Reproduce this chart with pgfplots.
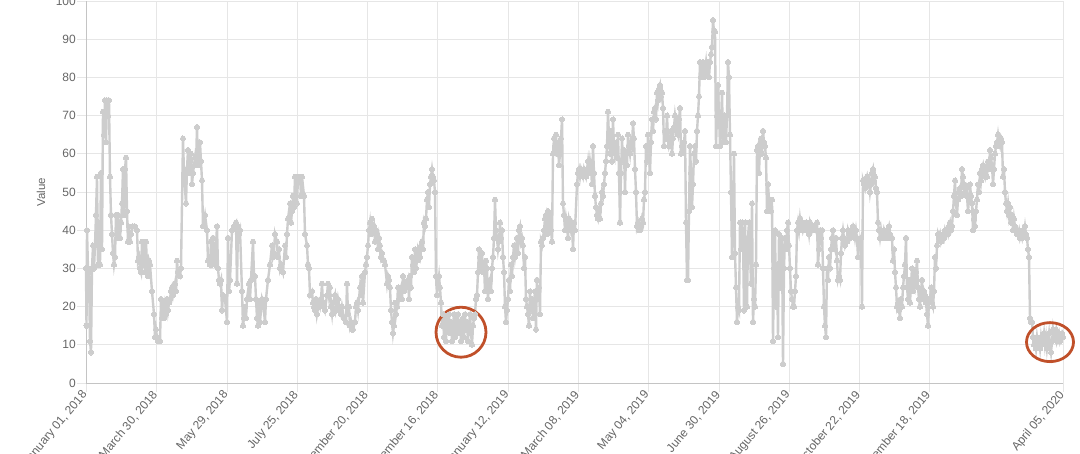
\documentclass[border=0pt]{standalone}
\usepackage{fontspec}
\setmainfont{Liberation Sans}
\usepackage{pgfplots}
\usepackage{pgfplotstable}
\pgfplotsset{compat=1.18}
\definecolor{gridc}{HTML}{E6E6E6}
\definecolor{axc}{HTML}{C4C4C4}
\definecolor{linec}{HTML}{CDCDCD}
\definecolor{txt}{HTML}{666666}
\definecolor{circ}{HTML}{C0502A}
\pgfplotstableread{
x y
86 30
86.5 15
87 40
88 30
89 29
90 11
91 8
92 30
93 36
94 30
95 36
96 44
97 54
98 31
99 42
100 31
101 55
102 35
103 71
104 65
105 74
106 63
107 74
108 70
109 74
110 54
111 44
112 39
113 34
114 31
115 33
116 44
117 38
118 44
119 40
120 38
121 42
122 47
123 56
124 44
125 56
126 59
127 45
128 37
129 41
130 37
131 39
133 41
135 41
137 40
138 32
139 33
140 30
141 29
142 37
143 31
144 36
145 29
146 37
147 31
148 28
149 32
150 31
152 24
154 18
155 12
156 14
157 12
158 11
160 11
161 22
162 17
163 21
164 17
165 20
166 18
167 22
168 19
169 21
170 22
171 24
172 25
173 23
175 26
176 24
177 32
178 29
180 28
181 30
183 64
184 55
186 47
187 56
188 61
189 55
190 58
191 60
192 52
193 55
195 59
196 57
197 67
198 57
199 60
200 63
201 58
202 53
203 41
205 44
207 40
208 32
210 31
211 37
212 31
213 38
215 31
217 41
218 30
219 27
220 26
221 27
222 19
223 23
225 22
227 16
228 38
229 24
230 27
232 40
234 41
236 42
237 26
238 41
239 39
240 40
242 24
243 15
244 17
245 20
246 17
247 22
249 26
250 22
251 27
253 37
254 28
255 28
256 22
257 17
258 15
259 21
260 16
262 22
263 21
265 16
266 22
268 27
270 31
272 36
273 33
274 34
275 39
277 37
278 33
279 35
280 30
281 31
283 29
285 36
286 33
287 39
288 43
290 47
291 42
292 45
293 49
294 46
295 54
297 47
298 54
300 54
301 49
302 54
304 49
305 39
307 36
308 31
309 30
310 23
312 24
313 21
314 20
315 19
316 22
317 18
319 21
320 20
321 22
322 26
323 21
324 20
325 19
327 23
328 26
329 23
330 25
331 20
332 18
333 21
335 23
336 19
337 20
338 22
340 19
341 18
342 20
344 17
346 16
347 26
348 18
349 20
350 15
351 16
352 14
353 14
355 16
356 20
357 21
358 19
360 25
361 23
362 28
363 21
365 29
366 31
367 33
368 36
369 40
370 42
371 39
372 43
373 40
374 41
375 37
376 40
377 39
378 35
379 38
380 36
381 33
382 34
384 32
385 31
387 26
388 28
389 27
390 25
391 19
392 16
393 13
394 15
395 21
396 18
397 20
398 25
399 22
400 24
401 25
402 22
403 28
404 24
405 26
406 25
408 27
409 22
410 28
411 25
412 33
413 31
414 29
415 35
416 30
417 32
418 35
419 34
420 33
421 36
422 37
423 35
424 42
425 41
426 43
427 48
428 50
429 46
430 52
431 54
432 56
433 54
434 53
435 50
436 28
437 23
438 26
439 28
440 25
441 21
442 15
443 18
444 12
445 16
446 11
447 17
448 14
449 18
450 13
451 16
452 11
453 15
454 18
455 12
456 17
457 14
458 18
459 13
460 16
461 11
462 15
463 17
464 12
465 18
466 14
467 16
468 11
469 15
470 18
471 13
472 10
473 15
474 17
475 18
476 22
477 23
478 29
479 35
480 33
481 30
482 34
483 29
484 31
485 24
486 32
487 30
488 22
489 26
490 27
491 24
492 30
493 33
494 38
495 48
496 40
497 38
498 35
499 37
500 42
501 38
502 40
503 33
504 29
505 20
506 16
507 19
508 22
509 27
510 24
511 31
512 28
513 33
514 36
515 33
516 35
517 38
518 34
519 40
520 41
521 37
522 38
523 36
524 30
525 33
526 22
527 20
528 18
529 15
530 24
531 19
532 22
533 17
534 21
535 24
536 14
537 27
538 22
539 25
540 18
541 37
542 36
543 38
544 40
545 43
546 44
547 39
548 45
549 42
550 44
551 40
552 37
553 60
554 64
555 62
556 65
557 60
558 63
559 57
560 60
561 64
562 69
563 47
564 44
565 40
566 43
567 41
568 38
569 43
570 42
571 40
572 41
573 35
574 42
575 40
577 52
578 55
579 56
580 54
581 56
582 55
583 54
584 56
585 55
586 54
587 56
588 58
589 55
590 58
591 56
592 52
593 62
594 55
595 49
596 46
597 44
598 43
599 45
600 43
601 47
602 50
603 49
604 52
605 55
606 58
607 62
608 71
609 64
610 60
611 66
612 58
613 69
614 62
615 60
616 63
617 59
618 65
619 55
620 42
621 55
622 64
623 58
624 61
625 50
626 60
627 57
628 65
629 62
630 60
631 63
632 62
633 68
634 64
635 56
636 50
637 41
638 42
639 40
640 40
641 41
642 43
643 42
644 48
645 50
646 62
647 58
648 65
649 60
650 55
651 63
652 69
653 66
654 71
655 72
656 69
657 76
658 74
659 77
660 78
661 75
662 76
663 72
664 62
665 66
666 64
667 70
668 64
669 62
670 63
671 66
672 60
673 64
674 67
675 70
676 68
677 66
678 65
679 69
680 72
681 60
682 62
683 61
684 63
685 66
686 42
687 27
688 27
689 45
690 62
691 55
692 46
693 52
694 60
695 62
696 58
697 66
698 70
699 75
700 84
701 80
702 82
703 84
704 80
705 82
706 84
707 81
708 84
709 80
710 84
711 86
712 88
713 95
714 92
715 92
716 62
717 70
718 78
719 70
720 62
721 68
722 76
723 63
724 70
725 68
726 63
727 70
728 84
729 80
730 65
731 50
732 33
733 45
734 60
735 34
736 25
737 16
738 20
739 19
740 42
741 35
742 42
743 38
744 19
745 42
746 30
747 20
748 38
749 42
750 35
751 26
752 47
753 16
754 22
755 20
756 31
757 61
758 62
759 55
760 62
761 64
762 60
763 66
764 63
765 62
766 59
767 45
768 52
769 48
770 46
771 45
772 48
773 11
774 30
775 40
776 20
777 31
778 12
779 39
780 25
781 31
782 38
783 5
784 30
785 38
786 35
787 40
788 42
789 36
790 30
791 24
792 22
793 20
794 20
795 24
796 28
797 40
798 42
799 40
800 43
801 41
802 42
803 40
804 41
806 42
807 40
808 41
809 39
810 42
812 40
813 41
815 41
816 40
817 42
818 31
819 35
820 40
821 38
822 40
823 30
824 20
825 15
826 12
827 30
828 27
829 33
830 30
831 35
832 38
833 40
834 36
835 35
836 38
837 32
838 27
839 28
840 27
841 34
842 38
843 40
844 38
845 36
846 37
847 37
848 40
849 39
850 38
851 39
852 40
853 41
854 40
855 38
856 40
857 38
858 33
859 36
860 37
861 38
862 20
863 53
864 52
865 51
866 53
867 54
868 52
869 53
870 50
871 52
872 55
873 56
874 53
875 54
876 51
877 50
878 42
879 40
880 38
881 40
882 38
883 38
884 40
885 39
886 38
887 38
888 40
889 41
890 39
891 38
892 38
893 32
894 35
895 29
896 25
897 20
898 21
899 19
900 17
901 22
902 20
903 25
904 28
905 31
906 38
907 25
908 22
909 27
910 21
911 26
912 30
913 24
914 28
915 26
916 29
917 32
918 25
919 22
920 20
921 24
922 27
923 22
924 24
925 23
926 21
927 18
928 15
929 22
930 22
931 25
932 21
933 20
934 24
935 33
936 30
937 36
938 39
939 38
940 39
941 37
942 38
943 39
944 38
945 40
946 39
947 40
948 39
949 41
950 42
951 40
952 41
953 45
954 49
955 53
956 47
957 44
958 48
959 50
960 51
961 49
962 56
963 54
964 52
965 50
966 51
967 49
968 45
969 48
970 52
971 49
972 47
973 40
974 43
975 41
976 45
977 48
978 52
979 50
980 55
981 53
982 56
983 57
984 55
985 54
986 56
987 54
988 58
989 56
990 61
991 59
992 57
993 52
994 56
995 60
996 62
997 63
998 65
999 63
1000 62
1001 64
1002 63
1003 54
1004 56
1005 50
1006 47
1007 45
1008 47
1009 44
1010 46
1011 42
1012 44
1013 40
1014 43
1015 41
1016 40
1017 39
1018 39
1019 40
1020 38
1021 39
1022 38
1023 40
1024 39
1025 41
1026 39
1027 38
1028 35
1029 33
1030 17
1031 16
1032 16
1033 12
1034 10
1035 11
1036 9
1037 12
1038 10
1039 11
1040 9
1041 12
1042 10
1043 11
1044 13
1045 10
1046 12
1047 9
1048 11
1049 13
1050 10
1051 8
1052 11
1053 14
1054 12
1055 13
1056 14
1057 11
1058 12
1059 13
1060 11
1061 12
1062 13
1063 12
}\mydata
\begin{document}
\begin{tikzpicture}
\begin{axis}[
  scale only axis, width=977pt, height=382pt,
  xmin=86, xmax=1063, ymin=0, ymax=100,
  axis x line*=bottom, axis y line*=left,
  axis line style={draw=axc, line width=0.8pt},
  xtick={86,156,227,297,367,437,508,578,648,719,789,859,929,1063},
  xticklabels={{January 01, 2018},{March 30, 2018},{May 29, 2018},{July 25, 2018},{September 20, 2018},{November 16, 2018},{January 12, 2019},{March 08, 2019},{May 04, 2019},{June 30, 2019},{August 26, 2019},{October 22, 2019},{December 18, 2019},{April 05, 2020}},
  ytick={0,10,...,100},
  grid=major, major grid style={draw=gridc, line width=0.8pt},
  tick align=outside, major tick length=9pt,
  tick style={draw=gridc, line width=0.8pt},
  /pgf/number format/assume math mode=true,
  xticklabel style={rotate=50, anchor=east, font=\fontsize{12}{14}\selectfont, text=txt, inner sep=1pt},
  yticklabel style={font=\fontsize{12}{14}\selectfont, text=txt, inner sep=1pt},
  ylabel={Value},
  ylabel style={font=\fontsize{11.5}{13}\selectfont, text=txt, xshift=0pt, yshift=6pt},
  clip=false,
]
\addplot[color=linec, line width=2.4pt, mark=*, mark size=2.6pt, mark options={fill=linec, draw=linec, line width=0pt}] table[x=x,y=y] {\mydata};
\draw[circ, line width=2.8pt] (axis cs:461,13.3) ellipse [x radius=25pt, y radius=25pt];
\draw[circ, line width=2.8pt] (axis cs:1050,10.7) ellipse [x radius=23.5pt, y radius=19.5pt];
\end{axis}
\pgfresetboundingbox
\path[use as bounding box] (-86pt,-70pt) rectangle (994pt,383pt);
\end{tikzpicture}
\end{document}
